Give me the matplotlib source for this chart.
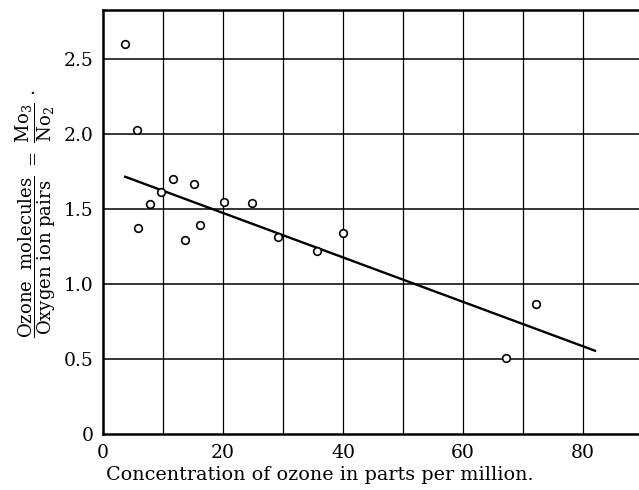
import matplotlib
matplotlib.use('Agg')
import matplotlib.pyplot as plt

plt.rcParams['font.family'] = ['DejaVu Serif']
plt.rcParams['mathtext.fontset'] = 'dejavuserif'

# ozone concentration (ppm) and ratio of ozone molecules to oxygen ion pairs
conc = [3.7, 5.6, 5.8, 7.9, 9.7, 11.7, 13.7, 15.1, 16.1, 20.2, 24.8, 29.2,
        35.7, 40.0, 67.1, 72.1]
ratio = [2.60, 2.03, 1.37, 1.53, 1.615, 1.70, 1.29, 1.665, 1.39, 1.545, 1.54,
         1.31, 1.22, 1.34, 0.51, 0.867]

# fitted straight line (end points)
fit_x = [3.7, 82.0]
fit_y = [1.715, 0.555]

x_ticks = [0, 20, 40, 60, 80]
x_grid = [10, 30, 50, 70]
y_ticks = [0, 0.5, 1.0, 1.5, 2.0, 2.5]
y_ticklabels = ['0', '0.5', '1.0', '1.5', '2.0', '2.5']


def main():
    fig = plt.figure(figsize=(6.39, 4.9), dpi=100)
    ax = fig.add_axes([103 / 639, 1 - 434 / 490, 536 / 639, 424 / 490])

    ax.set_xlim(0, 536 / 6)
    ax.set_ylim(0, 424 / 150)

    for gx in x_ticks[1:] + x_grid:
        ax.axvline(gx, color='black', lw=0.9, zorder=1)
    for gy in y_ticks[1:]:
        ax.axhline(gy, color='black', lw=1.1, zorder=1)

    ax.plot(fit_x, fit_y, color='black', lw=1.7, zorder=2)
    ax.plot(conc, ratio, 'o', mfc='white', mec='black', ms=5.5, mew=1.2,
            zorder=3)

    ax.set_xticks(x_ticks)
    ax.set_yticks(y_ticks)
    ax.set_yticklabels(y_ticklabels)
    ax.tick_params(length=0, labelsize=13.5, pad=7)

    for side in ['left', 'bottom', 'top']:
        ax.spines[side].set_linewidth(1.8)
    ax.spines['right'].set_visible(False)

    ax.set_xlabel('Concentration of ozone in parts per million.', fontsize=13.8)
    ax.xaxis.set_label_coords((320 - 103) / 536, -0.075)
    ax.set_ylabel(r'$\dfrac{\mathrm{Ozone\ \ molecules}}{\mathrm{Oxygen\ ion\ pairs}}'
                  r'\ =\ \dfrac{\mathrm{Mo_3}}{\mathrm{No_2}}\,\cdot$',
                  fontsize=13)
    ax.yaxis.set_label_coords(-(103 - 58) / 536, (434 - 214) / 424)

    fig.savefig('out.png', dpi=100)


if __name__ == "__main__":
    main()
